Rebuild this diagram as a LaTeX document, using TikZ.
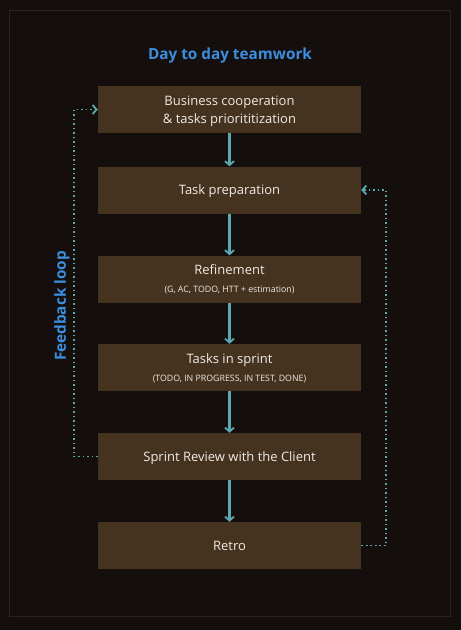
\documentclass[tikz,border=0pt]{standalone}
\usepackage{fontspec}
\setmainfont{Open Sans}
\usetikzlibrary{arrows.meta, positioning}

\definecolor{bgdark}{HTML}{140F0D}
\definecolor{framecol}{HTML}{2B2420}
\definecolor{boxfill}{HTML}{45321F}
\definecolor{flowcol}{HTML}{5BA8B0}
\definecolor{titlecol}{HTML}{3B8EE0}
\definecolor{textcol}{HTML}{F0EBE5}

\newcommand{\subtext}{\fontsize{8.8}{10}\selectfont}

\begin{document}
\begin{tikzpicture}[
    x=1pt, y=-1pt,
    step box/.style={fill=boxfill, rectangle, minimum width=263pt, minimum height=47pt, text=textcol, font=\fontsize{13}{18}\selectfont, align=center, inner sep=0pt, text depth=-2pt},
    flow/.style={draw=flowcol, line width=2.2pt, -{Straight Barb[length=4pt, width=9pt, line width=1.8pt]}},
    loop/.style={draw=flowcol, line width=1.8pt, dash pattern=on 1.8pt off 2.7pt, -{Straight Barb[length=4pt, width=9pt, line width=1.8pt]}},
    heading/.style={text=titlecol, font=\bfseries\fontsize{15.3}{18}\selectfont}
]

% Background and frame
\fill[bgdark] (0,0) rectangle (461,630);
\draw[framecol, line width=1pt] (9,10) rectangle (450,616);

% Title
\node[heading] (title) at (230,56) {Day to day teamwork};

% Steps
\node[step box] (business) at (229.5,109.5) {Business cooperation\\ \& tasks priorititization};
\node[step box] (prep) at (229.5,190) {Task preparation};
\node[step box] (refine) at (229.5,279) {Refinement\\[0pt] {\subtext (G, AC, TODO, HTT + estimation)}};
\node[step box] (sprint) at (229.5,367.5) {Tasks in sprint\\[0pt] {\subtext (TODO, IN PROGRESS, IN TEST, DONE)}};
\node[step box] (review) at (229.5,456.5) {Sprint Review with the Client};
\node[step box] (retro) at (229.5,545.5) {Retro};

% Main flow
\draw[flow] (business) -- (prep);
\draw[flow] (prep) -- (refine);
\draw[flow] (refine) -- (sprint);
\draw[flow] (sprint) -- (review);
\draw[flow] (review) -- (retro);

% Feedback loops
\coordinate (leftbend) at (74,0);
\coordinate (rightbend) at (386,0);
\draw[loop] (review.west) -| (leftbend |- business.west) -- (business.west);
\draw[loop] (retro.east) -| (rightbend |- prep.east) -- (prep.east);

\node[heading, rotate=90] (feedback) at (62,306) {Feedback loop};

\end{tikzpicture}
\end{document}
